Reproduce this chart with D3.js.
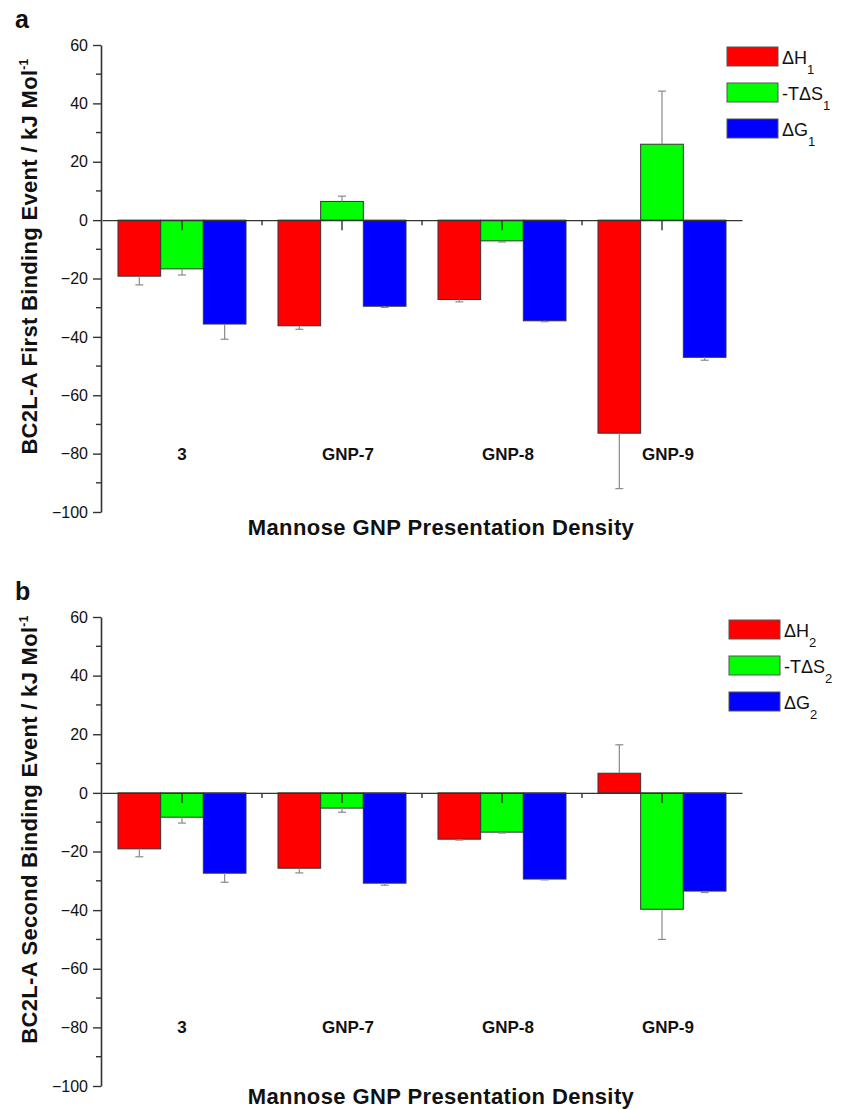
<!DOCTYPE html>
<html>
<head>
<meta charset="utf-8">
<script src="https://cdn.jsdelivr.net/npm/d3@7"></script>
<style>
  html, body { margin: 0; padding: 0; background: #fff; }
  svg { display: block; font-family: "Liberation Sans", Arial, sans-serif; }
</style>
</head>
<body>
<svg id="chart" width="846" height="1109"></svg>
<script>
// Binding thermodynamics of BC2L-A with mannose GNPs (kJ/mol)
const categories = ["3", "GNP-7", "GNP-8", "GNP-9"];
const yTicks = [-100, -80, -60, -40, -20, 0, 20, 40, 60];

// First binding event
const dH1 = [-19.2, -36.2, -27.2, -73.0];
const dH1Err = [3.0, 1.2, 0.8, 19.0];
const TdS1 = [-16.7, 6.4, -7.1, 26.0];
const TdS1Err = [2.1, 1.8, 0.4, 18.2];
const dG1 = [-35.6, -29.5, -34.5, -47.0];
const dG1Err = [5.2, 0.4, 0.3, 1.0];

// Second binding event
const dH2 = [-19.1, -25.7, -15.8, 6.7];
const dH2Err = [2.7, 1.6, 0.3, 9.7];
const TdS2 = [-8.3, -5.2, -13.4, -39.7];
const TdS2Err = [2.0, 1.4, 0.3, 10.3];
const dG2 = [-27.4, -30.8, -29.4, -33.5];
const dG2Err = [3.1, 0.7, 0.3, 0.5];

const seriesColors = ["#ff0000", "#00ff00", "#0000ff"];

const panels = [
  {
    letter: "a", top: 45, bottom: 512, legendTop: 47, legendX: 727, titleGap: 23,
    yTitle: "BC2L-A First Binding Event / kJ Mol",
    series: [
      { sym: "\u0394H", pre: "", sub: "1", values: dH1, errors: dH1Err },
      { sym: "T\u0394S", pre: "-", sub: "1", values: TdS1, errors: TdS1Err },
      { sym: "\u0394G", pre: "", sub: "1", values: dG1, errors: dG1Err }
    ]
  },
  {
    letter: "b", top: 617, bottom: 1086, legendTop: 620, legendX: 729, titleGap: 18,
    yTitle: "BC2L-A Second Binding Event / kJ Mol",
    series: [
      { sym: "\u0394H", pre: "", sub: "2", values: dH2, errors: dH2Err },
      { sym: "T\u0394S", pre: "-", sub: "2", values: TdS2, errors: TdS2Err },
      { sym: "\u0394G", pre: "", sub: "2", values: dG2, errors: dG2Err }
    ]
  }
];

const svg = d3.select("#chart");
const axisColor = "#333";

const x = d3.scaleBand().domain(categories).range([102, 742]).paddingInner(0.2).paddingOuter(0.1);
const seriesKeys = [0, 1, 2];
const xInner = d3.scaleBand().domain(seriesKeys).range([0, x.bandwidth()]);

panels.forEach(p => {
  const g = svg.append("g");
  const y = d3.scaleLinear().domain([-100, 60]).range([p.bottom, p.top]);

  // panel letter
  g.append("text").attr("x", 15).attr("y", p.top - 17)
    .attr("font-size", 25).attr("font-weight", "bold").attr("fill", "#111")
    .text(p.letter);

  // bars
  p.series.forEach((s, si) => {
    g.append("g").selectAll("rect").data(s.values).join("rect")
      .attr("x", (d, i) => x(categories[i]) + xInner(si))
      .attr("width", xInner.bandwidth())
      .attr("y", d => y(Math.max(0, d)))
      .attr("height", d => Math.abs(y(d) - y(0)))
      .attr("fill", seriesColors[si])
      .attr("stroke", "#333").attr("stroke-width", 1);
  });

  // error bars (drawn away from zero)
  p.series.forEach((s, si) => {
    const eg = g.append("g").attr("stroke", "#8a8a8a").attr("stroke-width", 1.2);
    s.values.forEach((v, i) => {
      const cx = x(categories[i]) + xInner(si) + xInner.bandwidth() / 2;
      const end = v >= 0 ? v + s.errors[i] : v - s.errors[i];
      eg.append("line").attr("x1", cx).attr("x2", cx).attr("y1", y(v)).attr("y2", y(end));
      eg.append("line").attr("x1", cx - 4).attr("x2", cx + 4).attr("y1", y(end)).attr("y2", y(end));
    });
  });

  // x axis along y = 0
  const xAxis = d3.axisBottom(x).tickSize(10).tickSizeOuter(0).tickFormat("");
  const xg = g.append("g").attr("transform", `translate(0,${y(0)})`).call(xAxis);
  xg.selectAll("path, line").attr("stroke", axisColor).attr("stroke-width", 1.4);
  // minor ticks between categories
  const bounds = categories.slice(1).map(c => x(c) - x.step() * x.paddingInner() / 2);
  xg.selectAll(".minor").data(bounds).join("line").attr("class", "minor")
    .attr("x1", d => d).attr("x2", d => d).attr("y1", 0).attr("y2", 5)
    .attr("stroke", axisColor).attr("stroke-width", 1.4);

  // y axis
  const yAxis = d3.axisLeft(y).tickValues(yTicks).tickSize(8).tickSizeOuter(0).tickPadding(5);
  const yg = g.append("g").attr("transform", `translate(${x.range()[0] - 1},0)`).call(yAxis);
  yg.select(".domain").attr("stroke", axisColor).attr("stroke-width", 1.6);
  yg.selectAll(".tick line").attr("stroke", axisColor).attr("stroke-width", 1.4);
  yg.selectAll(".tick text").attr("font-size", 16).attr("fill", "#111")
    .attr("font-family", "Liberation Sans, Arial, sans-serif");
  const minorY = d3.range(-90, 60, 20);
  yg.selectAll(".minor").data(minorY).join("line").attr("class", "minor")
    .attr("x1", -5).attr("x2", 0).attr("y1", d => y(d)).attr("y2", d => y(d))
    .attr("stroke", axisColor).attr("stroke-width", 1.4);

  // category labels
  g.append("g").selectAll("text").data(categories).join("text")
    .attr("x", d => x(d) + x.bandwidth() / 2 + (d === "3" ? 0 : 6))
    .attr("y", y(-80) + 6)
    .attr("text-anchor", "middle").attr("font-size", 17).attr("font-weight", "bold")
    .attr("fill", "#111").text(d => d);

  // x axis title
  g.append("text").attr("x", 441).attr("y", p.bottom + p.titleGap)
    .attr("text-anchor", "middle").attr("font-size", 22).attr("font-weight", "bold")
    .attr("letter-spacing", 0.4)
    .attr("fill", "#111").text("Mannose GNP Presentation Density");

  // y axis title with superscript
  const cy = (p.top + p.bottom) / 2 - 22;
  const yt = g.append("text").attr("transform", `translate(37,${cy}) rotate(-90)`)
    .attr("text-anchor", "middle").attr("font-size", 22).attr("font-weight", "bold")
    .attr("letter-spacing", 0.3).attr("fill", "#111");
  yt.append("tspan").text(p.yTitle);
  yt.append("tspan").attr("dy", -9).attr("font-size", 12).text("-1");

  // legend
  const lg = g.append("g").attr("transform", `translate(${p.legendX},${p.legendTop})`);
  p.series.forEach((s, si) => {
    const row = lg.append("g").attr("transform", `translate(0,${si * 36})`);
    row.append("rect").attr("width", 51).attr("height", 19)
      .attr("fill", seriesColors[si]).attr("stroke", "#555").attr("stroke-width", 1);
    const t = row.append("text").attr("x", 55).attr("y", 17)
      .attr("font-size", 18).attr("fill", "#111");
    t.append("tspan").text(s.pre + s.sym);
    t.append("tspan").attr("dy", 10).attr("font-size", 13).text(s.sub);
  });
});
</script>
</body>
</html>
